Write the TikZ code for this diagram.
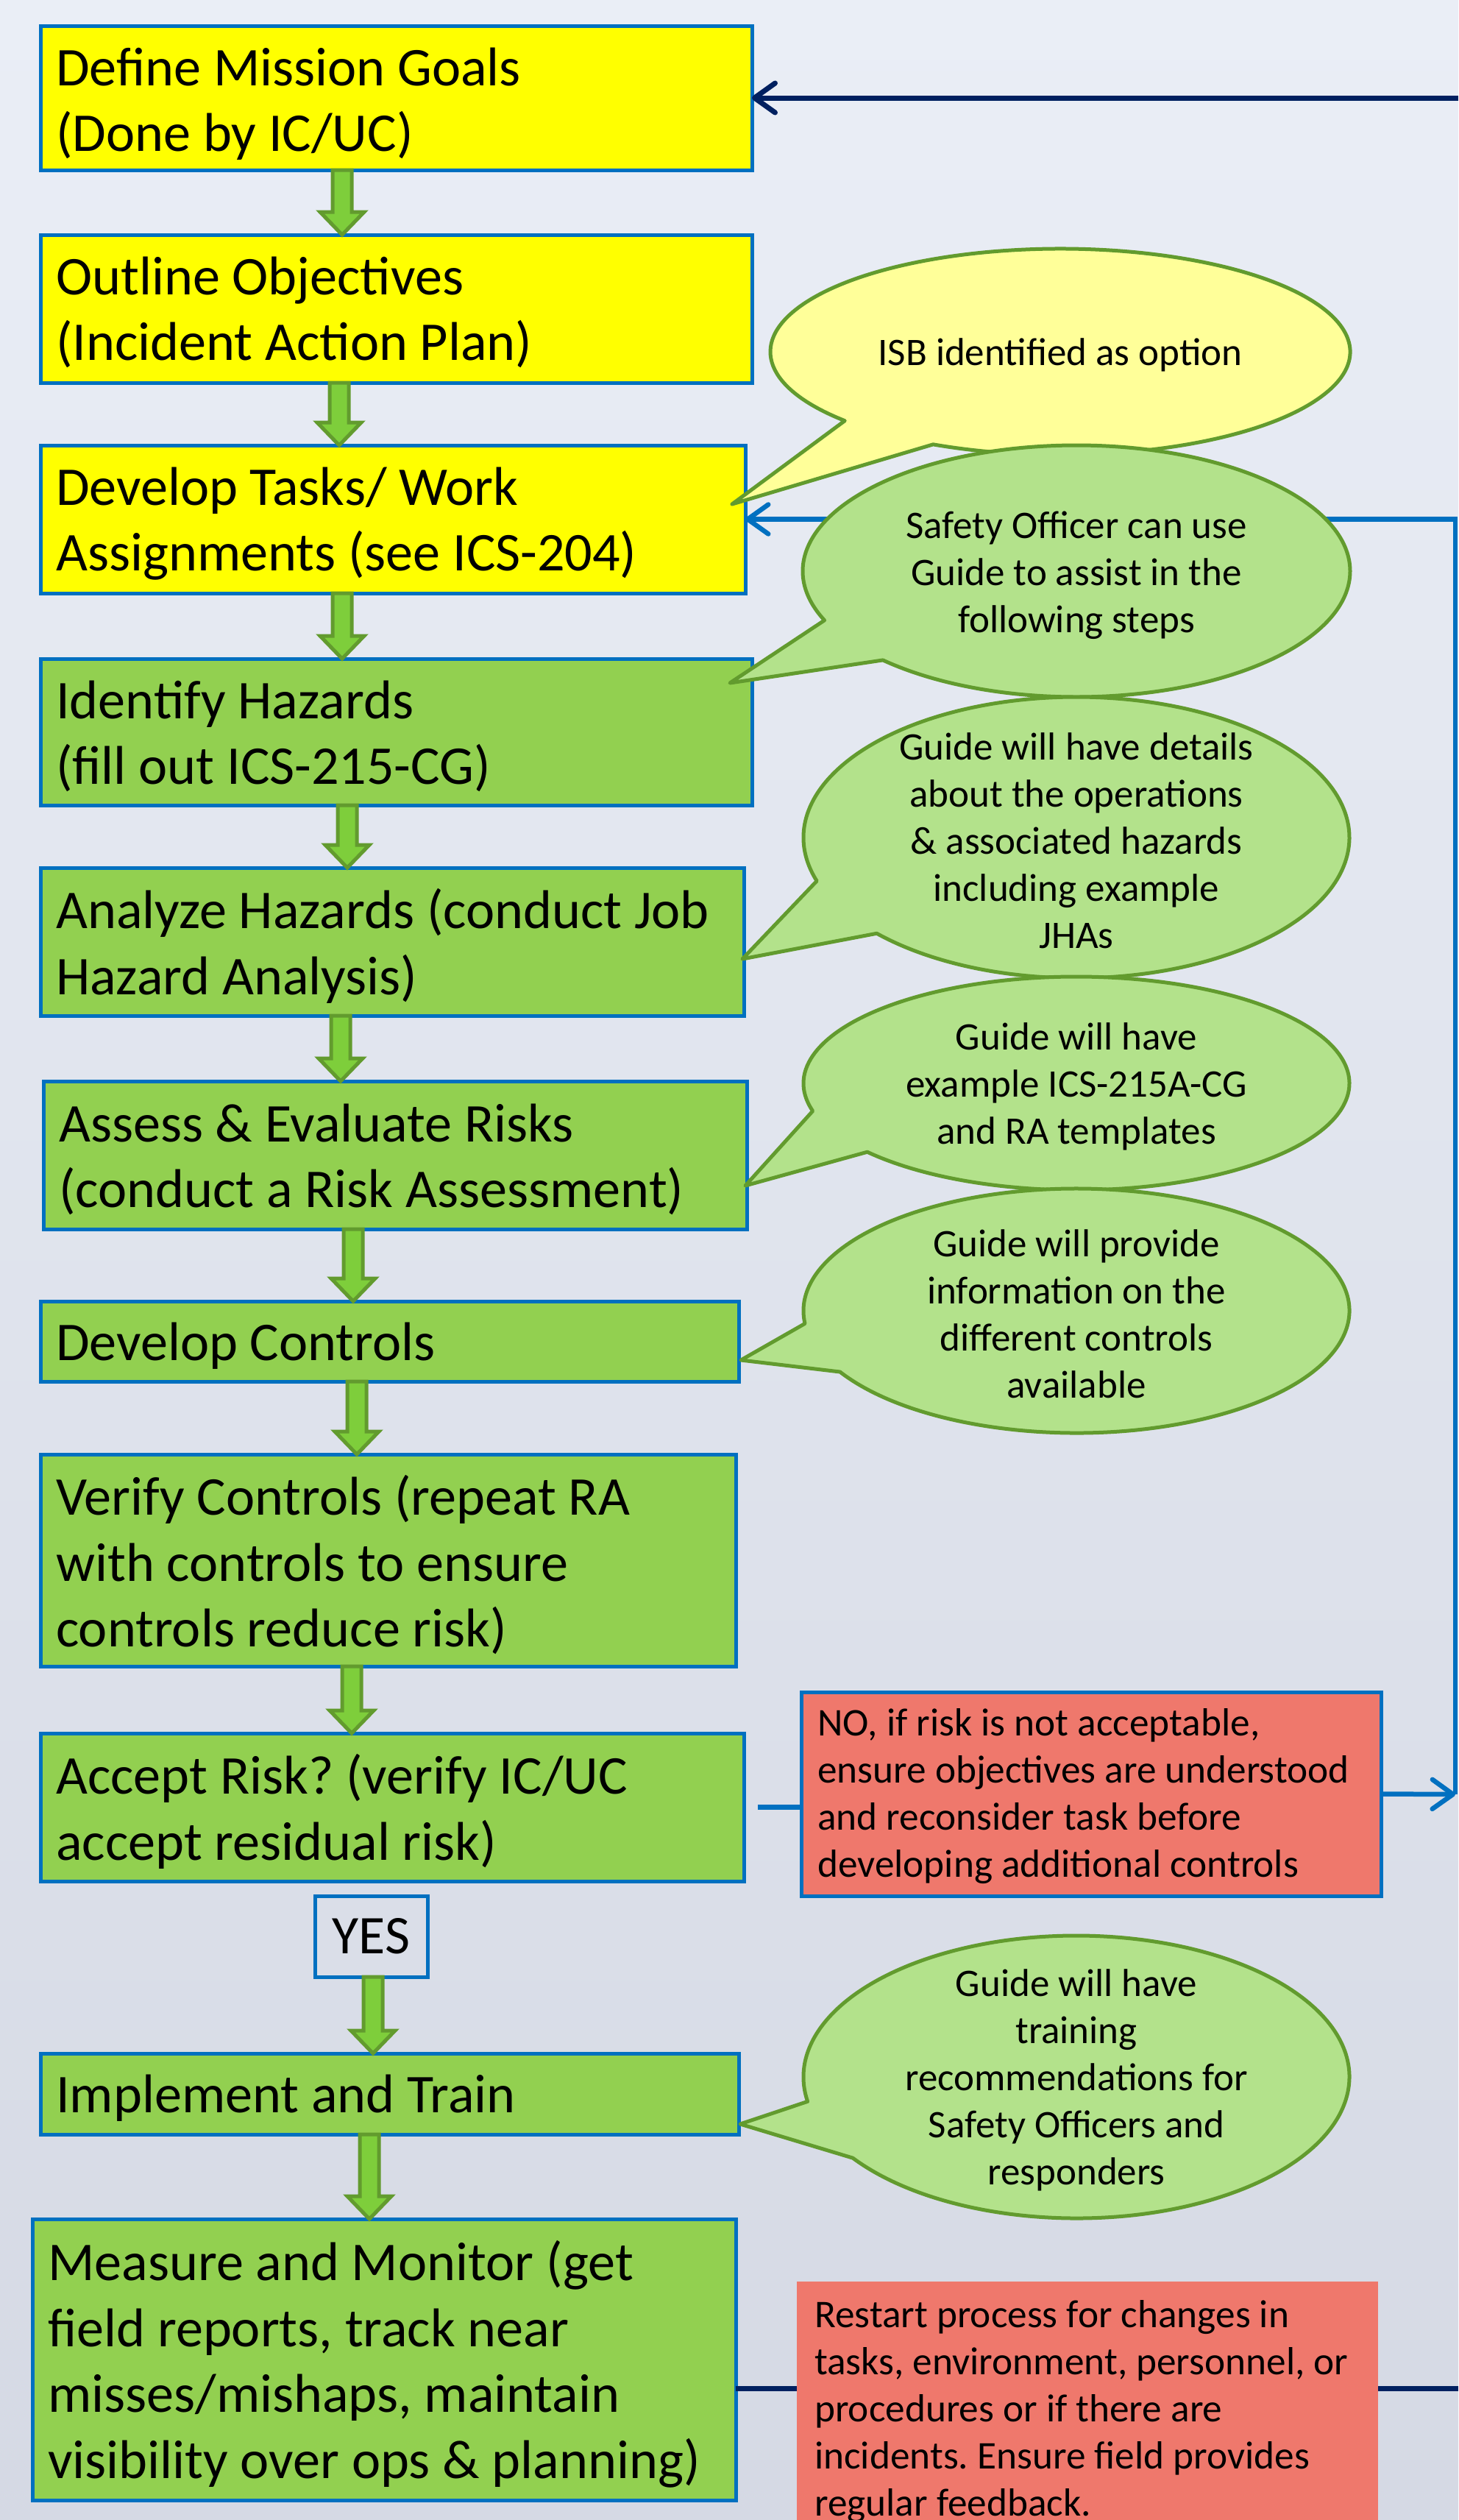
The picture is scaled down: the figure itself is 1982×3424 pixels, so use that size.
\documentclass[tikz,border=0pt]{standalone}
\usepackage{fontspec}
\setmainfont{Carlito}
\usetikzlibrary{arrows.meta,calc}
\frenchspacing
\definecolor{boxblue}{HTML}{0070C0}
\definecolor{navyc}{HTML}{002060}
\definecolor{boxyellow}{HTML}{FFFF00}
\definecolor{boxgreen}{HTML}{92D050}
\definecolor{calgreen}{HTML}{B3E28B}
\definecolor{calyellow}{HTML}{FFFF99}
\definecolor{olivec}{HTML}{629B2E}
\definecolor{arrgreen}{HTML}{7ECE3B}
\definecolor{redfill}{HTML}{EF786C}
\definecolor{bgtop}{HTML}{EAEEF6}
\definecolor{bgbot}{HTML}{D5D9E4}
\newcommand\calloutshape[9]{%
  \draw[#1] (#8,-#9) -- ($(#2,-#3)+({360-#6}:#4pt and #5pt)$)
    arc[start angle={360-#6}, end angle={720-#7}, x radius=#4pt, y radius=#5pt] -- cycle;}
\newcommand\greenarrow[3]{%
  \draw[blockarrow] let \p1=(#2.south), \p2=(#3.north) in
   ({#1pt-13pt},\y1) -- ({#1pt+13pt},\y1) -- ({#1pt+13pt},{\y2+31pt}) -- ({#1pt+30pt},{\y2+31pt})
   -- (#1pt,\y2) -- ({#1pt-30pt},{\y2+31pt}) -- ({#1pt-13pt},{\y2+31pt}) -- cycle;}
\tikzset{
  stepbox/.style={draw=boxblue, line width=5pt, inner sep=0pt, outer sep=0pt, anchor=north west},
  boxtext/.style={anchor=west, align=left, inner sep=0pt, font=\fontsize{74.2pt}{89.5pt}\selectfont},
  redbox/.style={fill=redfill, inner sep=0pt, outer sep=0pt, anchor=north west},
  redtext/.style={anchor=west, align=left, inner sep=0pt, font=\fontsize{53.3pt}{64pt}\selectfont},
  blockarrow/.style={fill=arrgreen, draw=olivec, line width=5pt, line join=miter},
  yellowcall/.style={fill=calyellow, draw=olivec, line width=5pt, line join=round},
  greencall/.style={fill=calgreen, draw=olivec, line width=5pt, line join=round},
  callouttext/.style={align=center, inner sep=0pt, font=\fontsize{53pt}{64pt}\selectfont},
  navyline/.style={draw=navyc, line width=7pt},
  blueline/.style={draw=boxblue, line width=6.5pt},
  barbtip/.style={-{Straight Barb[length=28pt,width=40pt,round]}},
}
\begin{document}
\begin{tikzpicture}[x=1pt,y=1pt]
\useasboundingbox (0,0) rectangle (1982,-3424);
\shade[top color=bgtop, bottom color=bgbot] (0,0) rectangle (1982,-3424);

\coordinate (navyA) at (1982,-133);
\coordinate (navyB) at (1982,-3245);
\coordinate (vline) at (1978,-2438);

% step boxes
\node[stepbox, fill=boxyellow, minimum width=967pt, minimum height=196pt] (b1) at (55,-35) {};
\node[stepbox, fill=boxyellow, minimum width=967pt, minimum height=201pt] (b2) at (55,-319) {};
\node[stepbox, fill=boxyellow, minimum width=958pt, minimum height=201pt] (b3) at (55,-605) {};
\node[stepbox, fill=boxgreen, minimum width=967pt, minimum height=199pt] (b4) at (55,-895) {};
\node[stepbox, fill=boxgreen, minimum width=956pt, minimum height=201pt] (b5) at (55,-1179) {};
\node[stepbox, fill=boxgreen, minimum width=956pt, minimum height=201pt] (b6) at (59,-1469) {};
\node[stepbox, fill=boxgreen, minimum width=949pt, minimum height=109pt] (b7) at (55,-1768) {};
\node[stepbox, fill=boxgreen, minimum width=945pt, minimum height=288pt] (b8) at (55,-1976) {};
\node[stepbox, fill=boxgreen, minimum width=956pt, minimum height=201pt] (b9) at (55,-2355) {};
\node[draw=boxblue, line width=5pt, outer sep=0pt, inner sep=0pt, minimum width=153pt, minimum height=110pt,
  font=\fontsize{74pt}{89.5pt}\selectfont] (yes) at (504.5,-2631) {YES};
\node[stepbox, fill=boxgreen, minimum width=949pt, minimum height=110pt] (b10) at (55,-2790) {};
\node[stepbox, fill=boxgreen, minimum width=956pt, minimum height=382pt] (b11) at (44,-3015) {};

\node[boxtext] (t1) at ([xshift=21pt,yshift=-8pt]b1.west) {Define Mission Goals\\(Done by IC/UC)};
\node[boxtext] (t2) at ([xshift=21pt,yshift=-5pt]b2.west) {Outline Objectives\\(Incident Action Plan)};
\node[boxtext] (t3) at ([xshift=21pt,yshift=-6pt]b3.west) {Develop Tasks/ Work\\Assignments (see ICS-204)};
\node[boxtext] (t4) at ([xshift=21pt,yshift=-6pt]b4.west) {Identify Hazards\\(fill out ICS-215-CG)};
\node[boxtext] (t5) at ([xshift=21pt,yshift=-6pt]b5.west) {Analyze Hazards (conduct Job\\Hazard Analysis)};
\node[boxtext] (t6) at ([xshift=21pt,yshift=-6pt]b6.west) {Assess \& Evaluate Risks\\(conduct a Risk Assessment)};
\node[boxtext] (t7) at ([xshift=21pt,yshift=-6pt]b7.west) {Develop Controls};
\node[boxtext] (t8) at ([xshift=21pt,yshift=-6pt]b8.west) {Verify Controls (repeat RA\\with controls to ensure\\controls reduce risk)};
\node[boxtext] (t9) at ([xshift=21pt,yshift=-6pt]b9.west) {Accept Risk? (verify IC/UC\\accept residual risk)};
\node[boxtext] (t10) at ([xshift=21pt,yshift=-6pt]b10.west) {Implement and Train};
\node[boxtext] (t11) at ([xshift=21pt,yshift=-6pt]b11.west) {Measure and Monitor (get\\field reports, track near\\misses/mishaps, maintain\\visibility over ops \& planning)};

% NO box
\node[redbox, draw=boxblue, line width=5pt, minimum width=788pt, minimum height=277pt] (no) at (1089,-2299) {};
\node[redtext] (not) at ([xshift=22pt,yshift=-3pt]no.west)
  {NO, if risk is not acceptable,\\ensure objectives are understood\\and reconsider task before\\developing additional controls};

% connectors
\draw[navyline, barbtip] (navyA) -- (b1.east |- navyA);
\draw[navyline] (b11.east |- navyB) -- (navyB);
\draw[blueline] ([xshift=19pt]b9.east) -- (b9.east -| no.west);
\draw[blueline, barbtip] (no.east) -- (vline);
\draw[blueline, barbtip] (vline) |- (b3.east);

% green block arrows
\greenarrow{465}{b1}{b2}
\greenarrow{461}{b2}{b3}
\greenarrow{465}{b3}{b4}
\greenarrow{472}{b4}{b5}
\greenarrow{463}{b5}{b6}
\greenarrow{480}{b6}{b7}
\greenarrow{485}{b7}{b8}
\greenarrow{478}{b8}{b9}
\greenarrow{507}{yes}{b10}
\greenarrow{502}{b10}{b11}

% callouts
\calloutshape{yellowcall}{1441}{478}{394}{140}{116}{138}{995}{685}
\node[callouttext] (isb) at (1441,-482) {ISB identified as option};
\calloutshape{greencall}{1463}{776}{372}{171}{135}{157}{992}{928}
\node[callouttext] (c1) at (1463,-782) {Safety Officer can use\\Guide to assist in the\\following steps};
\calloutshape{greencall}{1463}{1138}{371}{191}{137}{162}{1009}{1303}
\node[callouttext] (c2) at (1463,-1142) {Guide will have details\\about the operations\\\& associated hazards\\including example\\JHAs};
\calloutshape{greencall}{1463}{1472}{371}{145}{140}{165}{1013}{1611}
\node[callouttext] (c3) at (1463,-1476) {Guide will have\\example ICS-215A-CG\\and RA templates};
\calloutshape{greencall}{1463}{1781}{371}{166}{150}{174}{1007}{1848}
\node[callouttext] (c4) at (1463,-1785) {Guide will provide\\information on the\\different controls\\available};
\calloutshape{greencall}{1463}{2822}{371}{192}{145}{170}{1006}{2886}
\node[callouttext] (c5) at (1463,-2826) {Guide will have\\training\\recommendations for\\Safety Officers and\\responders};

% restart box
\node[redbox, minimum width=790pt, minimum height=340pt] (restart) at (1083,-3100) {};
\node[redtext] (restartt) at ([xshift=24pt,yshift=-7pt]restart.west)
  {Restart process for changes in\\tasks, environment, personnel, or\\procedures or if there are\\incidents. Ensure field provides\\regular feedback.};
\end{tikzpicture}
\end{document}
